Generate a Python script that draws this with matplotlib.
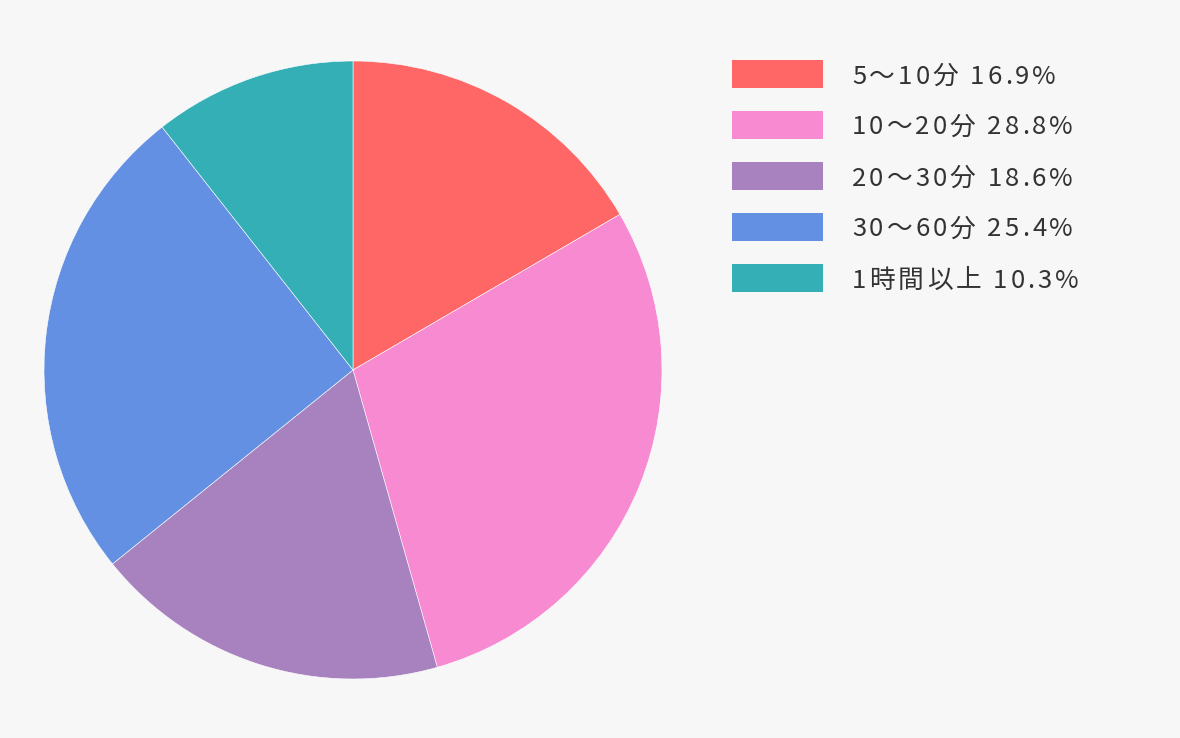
import matplotlib
matplotlib.use("Agg")
import matplotlib.pyplot as plt
from matplotlib.patches import Rectangle

categories = ["5～10分", "10～20分", "20～30分", "30～60分", "1時間以上"]
label_pcts = [16.9, 28.8, 18.6, 25.4, 10.3]
slice_values = [16.6, 29.0, 18.6, 25.2, 10.6]
colors = ["#FF6666", "#F78AD0", "#A882BE", "#6390E3", "#33AFB5"]
labels = [f"{c} {v}%" for c, v in zip(categories, label_pcts)]

W, H = 1180, 738
fig = plt.figure(figsize=(W / 100, H / 100), dpi=100)
fig.patch.set_facecolor("#F7F7F7")

cx, cy, r = 353, 370, 309
ax = fig.add_axes([(cx - r) / W, (H - cy - r) / H, 2 * r / W, 2 * r / H])
ax.pie(slice_values, colors=colors, startangle=90, counterclock=False, radius=1,
       wedgeprops=dict(edgecolor="#FFFFFF", linewidth=0.4))
ax.set_xlim(-1, 1)
ax.set_ylim(-1, 1)
ax.set_aspect("equal")
ax.axis("off")

fam = ["Noto Sans CJK JP", "DejaVu Sans"]
fs = 18.5
spacing = 3.0  # px
fig.canvas.draw()
renderer = fig.canvas.get_renderer()

box_x0, box_x1 = 732, 823
box_h = 28
for i, (lab, col) in enumerate(zip(labels, colors)):
    top = 60 + 51 * i
    fig.patches.append(Rectangle((box_x0 / W, (H - top - box_h) / H),
                                 (box_x1 - box_x0) / W, box_h / H,
                                 transform=fig.transFigure, facecolor=col,
                                 edgecolor="none"))
    x = 852
    ymid = top + box_h / 2 - 0.5
    for ch in lab:
        t = fig.text(x / W, (H - ymid) / H, ch, family=fam, fontsize=fs,
                     color="#333333", va="center_baseline", ha="left")
        if ch == " ":
            w = fs * 100 / 72 * 0.224
        else:
            w = t.get_window_extent(renderer).width
        x += w + spacing

fig.savefig("out.png", dpi=100, facecolor=fig.get_facecolor())
